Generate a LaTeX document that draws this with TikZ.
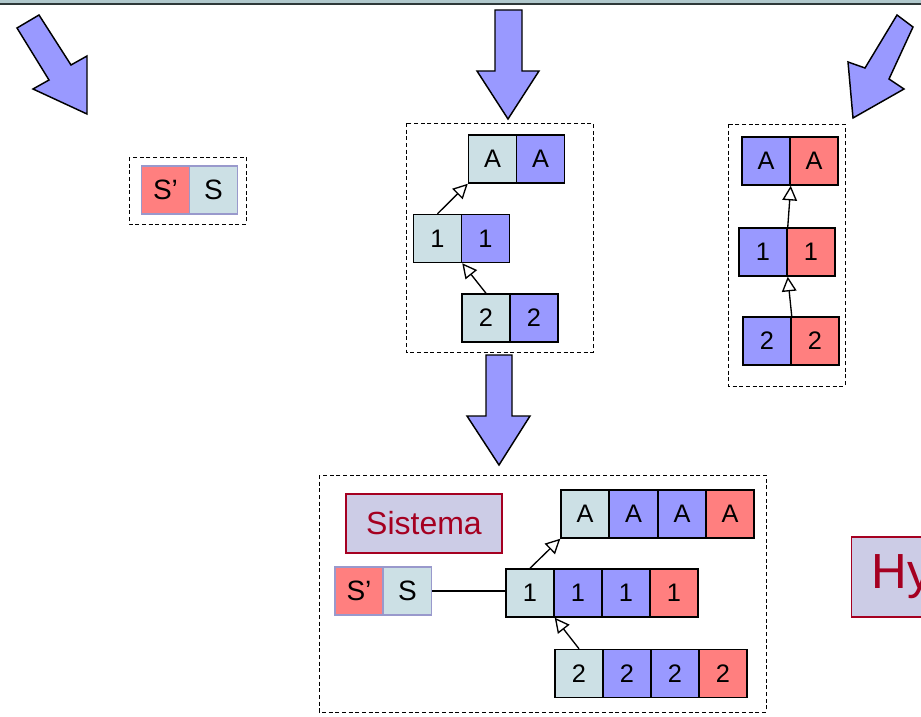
\documentclass[tikz,border=0pt]{standalone}
\usepackage{fontspec}
\setmainfont{Liberation Sans}
\usetikzlibrary{arrows.meta}

\definecolor{cellblue}{HTML}{9999FF}
\definecolor{cellred}{HTML}{FF7F7F}
\definecolor{cellgray}{HTML}{CCE0E5}
\definecolor{boxlav}{HTML}{CCCCE6}
\definecolor{boxred}{HTML}{A50021}
\definecolor{framelav}{HTML}{9999CC}
\definecolor{bandlight}{HTML}{B0C8CC}
\definecolor{banddark}{HTML}{2E3838}

\begin{document}
\begin{tikzpicture}[x=0.75pt,y=-0.75pt,
    cell/.style={draw, line width=1.1pt, minimum width=36pt, minimum height=36pt, inner sep=0pt, font=\fontsize{19}{21}\selectfont},
    ssbox/.style={draw=framelav, line width=1.1pt, minimum width=36pt, minimum height=36pt, inner sep=0pt, font=\fontsize{21}{23}\selectfont},
    namebox/.style={draw=boxred, fill=boxlav, line width=1.1pt, text=boxred, inner sep=0pt},
    link/.style={-{Triangle[open,length=11pt,width=11pt]}, line width=1pt},
    bigarrow/.style={draw, fill=cellblue, line width=1.1pt, line join=miter},
    group/.style={dashed, dash pattern=on 3pt off 2pt, line width=0.7pt}]

    \useasboundingbox (0,0) rectangle (921,717);
    \clip (0,0) rectangle (921,717);

    % band at the top
    \fill[bandlight] (0,0) rectangle (921,3);
    \draw[banddark, line width=1.2pt] (0,3.8) -- (921,3.8);

    % big arrows
    \draw[bigarrow] (17,28) -- (39,15) -- (71,65) -- (87,56) -- (87,114) -- (33,89) -- (49,80) -- cycle;
    \draw[bigarrow] (495,10) -- (522,10) -- (522,71) -- (539,71) -- (508,119) -- (477,71) -- (495,71) -- cycle;
    \draw[bigarrow] (897,15) -- (913,27) -- (889,79) -- (904,89) -- (853,118) -- (848,62) -- (865,68) -- cycle;
    \draw[bigarrow] (486,355) -- (512,355) -- (512,416) -- (530,416) -- (499,465) -- (467,416) -- (486,416) -- cycle;

    % left group
    \draw[group] (129,157) rectangle (246,224);
    \node[ssbox, fill=cellred] (lSp) at (165.5,190) {S’};
    \node[ssbox, fill=cellgray] (lS) at (213.5,190) {S};

    % middle group
    \draw[group] (406,123) rectangle (593,352);
    \node[cell, fill=cellgray] (mAa) at (492.5,159) {A};
    \node[cell, fill=cellblue] (mAb) at (540.5,159) {A};
    \node[cell, fill=cellgray] (m1a) at (437.5,238.5) {1};
    \node[cell, fill=cellblue] (m1b) at (485.5,238.5) {1};
    \node[cell, fill=cellgray] (m2a) at (486,318) {2};
    \node[cell, fill=cellblue] (m2b) at (534,318) {2};

    \draw[link] (m1a.north) -- (mAa.south west);
    \draw[link] (m2a.north) -- (m1a.south east);

    % right group
    \draw[group] (728,124) rectangle (845,386);
    \node[cell, fill=cellblue] (rAa) at (766,161) {A};
    \node[cell, fill=cellred] (rAb) at (814,161) {A};
    \node[cell, fill=cellblue] (r1a) at (763,252) {1};
    \node[cell, fill=cellred] (r1b) at (811,252) {1};
    \node[cell, fill=cellblue] (r2a) at (767,341) {2};
    \node[cell, fill=cellred] (r2b) at (815,341) {2};

    \draw[link] (r2a.north east) -- (r1a.south east);
    \draw[link] (r1a.north east) -- (rAa.south east);

    % bottom group
    \draw[group] (319,475) rectangle (766,712);
    \node[namebox, minimum width=117pt, minimum height=44pt, font=\fontsize{24}{26}\selectfont] (sys) at (424,523.5) {Sistema};
    \node[ssbox, fill=cellred] (bSp) at (359,591) {S’};
    \node[ssbox, fill=cellgray] (bS) at (407.5,591) {S};

    \node[cell, fill=cellgray] (bAa) at (585,514) {A};
    \node[cell, fill=cellblue] (bAb) at (633.5,514) {A};
    \node[cell, fill=cellblue] (bAc) at (682,514) {A};
    \node[cell, fill=cellred] (bAd) at (730,514) {A};
    \node[cell, fill=cellgray] (b1a) at (530,593) {1};
    \node[cell, fill=cellblue] (b1b) at (578,593) {1};
    \node[cell, fill=cellblue] (b1c) at (626,593) {1};
    \node[cell, fill=cellred] (b1d) at (674,593) {1};
    \node[cell, fill=cellgray] (b2a) at (579,673.5) {2};
    \node[cell, fill=cellblue] (b2b) at (627,673.5) {2};
    \node[cell, fill=cellblue] (b2c) at (675,673.5) {2};
    \node[cell, fill=cellred] (b2d) at (723,673.5) {2};

    \draw[line width=0.9pt] (bS.east) -- (bS.east -| b1a.west);
    \draw[link] (b1a.north) -- (bAa.south west);
    \draw[link] (b2a.north) -- (b1a.south east);

    % box cut by the right edge
    \node[namebox, anchor=west, minimum height=60pt, text width=100pt, inner xsep=15pt, font=\fontsize{37}{40}\selectfont] (hy) at (851,577) {Hy};
\end{tikzpicture}
\end{document}
